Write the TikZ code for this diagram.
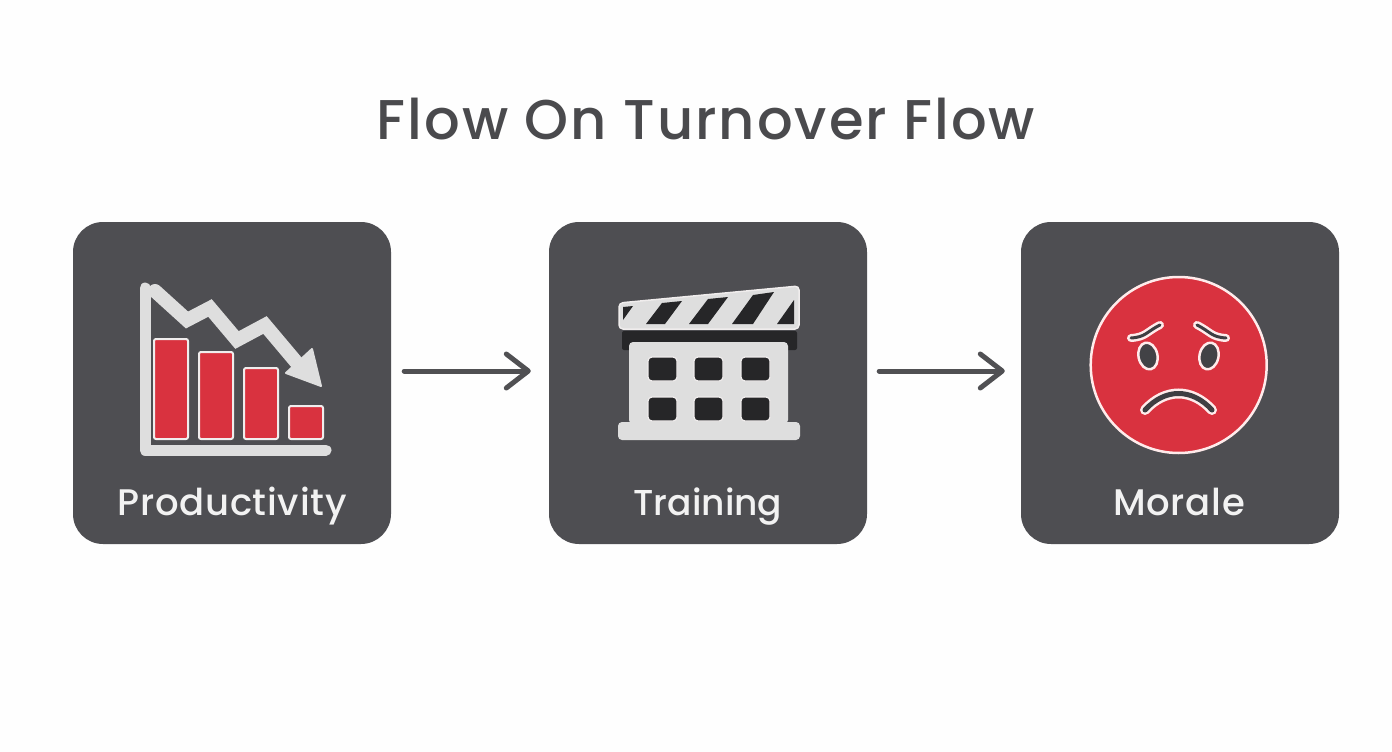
\documentclass[tikz,border=0pt]{standalone}
\usepackage{fontspec}
\setmainfont{Poppins Medium}[LetterSpace=2]
\newfontfamily\titlefont{Poppins Medium}[LetterSpace=3.5]
\newfontfamily\tightfont{Poppins Medium}
\usetikzlibrary{arrows.meta}
\definecolor{boxgrey}{HTML}{4E4E52}
\definecolor{arrowgrey}{HTML}{505053}
\definecolor{titlegrey}{HTML}{4A4A4D}
\definecolor{iconlight}{HTML}{DEDEDE}
\definecolor{iconedge}{HTML}{F0EDED}
\definecolor{iconred}{HTML}{D9323F}
\definecolor{icondark}{HTML}{262628}
\tikzset{
  card/.style={draw=none,fill=boxgrey,rounded corners=30pt,minimum width=318pt,minimum height=322pt,inner sep=0pt},
  cardlabel/.style={text=white!95!black,font=\fontsize{37}{37}\selectfont,inner sep=0pt,anchor=base},
  flowarrow/.style={draw=arrowgrey,line width=5pt,line cap=round,
    -{Straight Barb[length=22pt,width=34pt,line cap=round,round]}},
  bar/.style={fill=iconred,draw=iconedge,line width=2pt,rounded corners=2pt},
  axis/.style={draw=iconlight,line width=11pt,line cap=round,line join=round},
  window/.style={fill=icondark,draw=iconedge,line width=1.2pt,rounded corners=4pt},
  stripe/.style={fill=icondark},
  faceline/.style={draw=white!92!red,line cap=round},
  facecore/.style={draw=boxgrey!80!black,line cap=round},
}
\begin{document}
\begin{tikzpicture}[x=1pt,y=-1pt]
\path[fill=white!99.5!black,use as bounding box] (0,0) rectangle (1392,752);
\node[text=titlegrey,font=\titlefont\fontsize{56}{56}\selectfont,inner sep=0pt,anchor=base] (title) at (706,139) {Flow On Turnover Flow};
\node[card] (b1) at (232,383) {};
\node[card] (b2) at (708,383) {};
\node[card] (b3) at (1180,383) {};
\draw[flowarrow,shorten <=13pt,shorten >=18pt] ([yshift=12pt]b1.east) -- ([yshift=12pt]b2.west);
\draw[flowarrow,shorten <=12pt,shorten >=16pt] ([yshift=12pt]b2.east) -- ([yshift=12pt]b3.west);
\node[cardlabel] (l1) at (232,515) {Productivity};
\node[cardlabel,font=\tightfont\fontsize{36}{36}\selectfont] (l2) at (708,515) {Training};
\node[cardlabel] (l3) at (1179,515) {Morale};
% chart icon
\draw[axis] (145,288) -- (145,450) -- (326,450);
\foreach \a/\b/\c in {154/339/188,199/352/233,244/368/278,289/406/323}
  \draw[bar] (\a,\b) rectangle (\c,439);
\draw[draw=iconlight,line width=14pt,line cap=round,line join=miter] (155,291) -- (187,320) -- (210,308) -- (237,340) -- (265,325) -- (297,363);
\fill[iconlight,draw=iconlight,line width=2pt,line join=round] (321,386) -- (312,349) -- (286,373) -- cycle;
% clapper icon
\fill[icondark,rounded corners=2pt] (622,331) rectangle (797,350);
\fill[iconlight,rounded corners=4pt] (629,342) -- (788,342) -- (788,424) -- (629,424) -- cycle;
\fill[iconlight,rounded corners=4pt] (618,422) rectangle (800,440);
\foreach \a in {648,694,741}{
  \draw[window] (\a,357) rectangle ++(29,24);
  \draw[window] (\a,397) rectangle ++(29,24);
}
\path[fill=iconlight,draw=iconedge,line width=1.5pt,rounded corners=4pt] (619,303) -- (799,286) -- (799,329) -- (619,329) -- cycle;
\fill[stripe] (623,307) -- (633,306) -- (623,320) -- cycle;
\fill[stripe] (646,324) -- (662,303) -- (682,301) -- (665,324) -- cycle;
\fill[stripe] (689,324) -- (708,299) -- (728,297) -- (708,324) -- cycle;
\fill[stripe] (732,324) -- (753,295) -- (774,292) -- (753,324) -- cycle;
\fill[stripe] (777,324) -- (794,300) -- (794,324) -- cycle;
% face icon
\draw[fill=iconred,draw=white!92!red,line width=2.5pt] (1178.7,365) circle [radius=88];
\foreach \p/\q/\r in {1131/1146/1160,1226/1211/1197}{
  \draw[faceline,line width=8pt] (\p,338) .. controls (\q,337) and (\q,332) .. (\r,325);
  \draw[facecore,line width=3pt] (\p,338) .. controls (\q,337) and (\q,332) .. (\r,325);
}
\draw[fill=boxgrey!85!black,draw=white!92!red,line width=2.5pt,rotate around={12:(1148,356)}] (1148,356) ellipse [x radius=9.5,y radius=13.5];
\draw[fill=boxgrey!85!black,draw=white!92!red,line width=2.5pt,rotate around={-12:(1209,356)}] (1209,356) ellipse [x radius=9.5,y radius=13.5];
\draw[faceline,line width=10pt] (1145,410) .. controls (1165,388) and (1192,388) .. (1212,410);
\draw[facecore,line width=5pt] (1145,410) .. controls (1165,388) and (1192,388) .. (1212,410);
\end{tikzpicture}
\end{document}
